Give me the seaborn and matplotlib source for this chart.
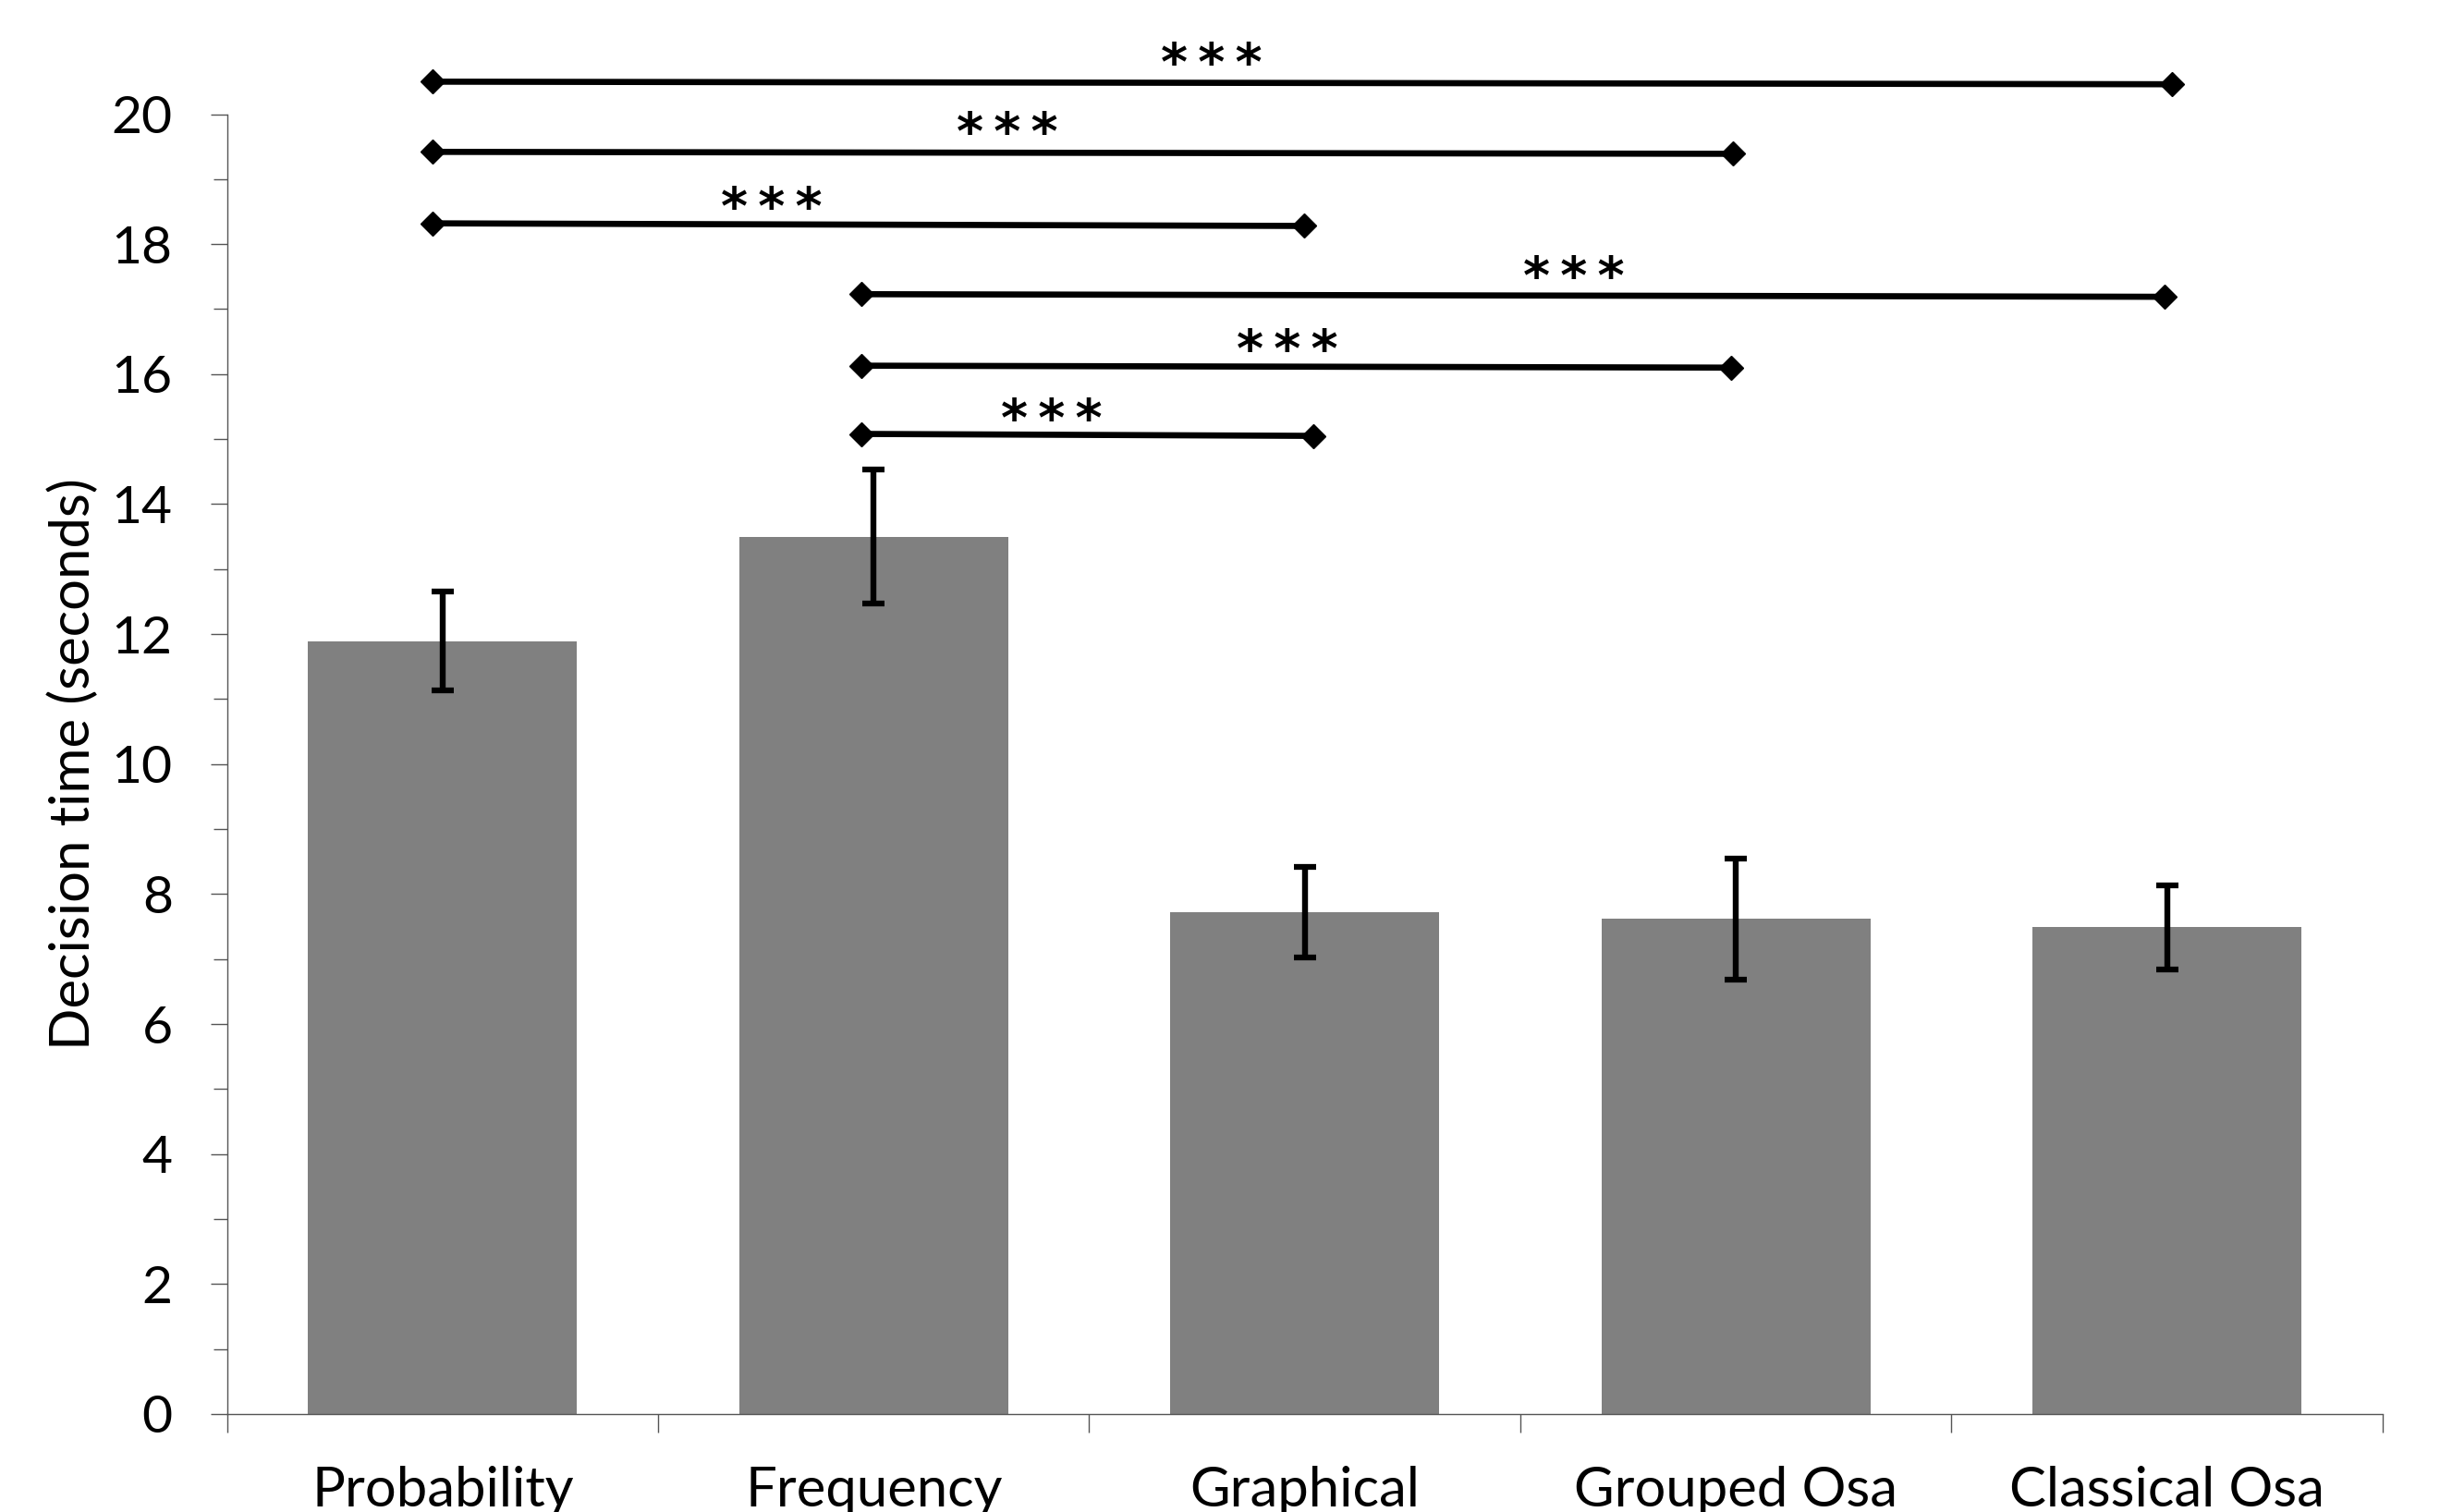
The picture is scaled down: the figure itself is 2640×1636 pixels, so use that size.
import matplotlib
matplotlib.use("Agg")
import matplotlib.pyplot as plt
import seaborn as sns
import pandas as pd
import numpy as np

# ---- data ----
categories = ["Probability", "Frequency", "Graphical", "Grouped Osa", "Classical Osa"]
means = [11.89, 13.50, 7.72, 7.62, 7.49]
errors = [0.76, 1.03, 0.70, 0.93, 0.65]

# significance brackets (x in category units)
sig_start = [-0.024, -0.024, -0.024, 0.971, 0.971, 0.971]
sig_end = [4.011, 2.994, 1.998, 3.994, 2.989, 2.020]
sig_y_left = [20.50, 19.42, 18.32, 17.23, 16.13, 15.08]
sig_y_right = [20.46, 19.39, 18.28, 17.19, 16.10, 15.05]
sig_label = ["*\u2009*\u2009*"] * 6
sig_label_x = [1.784, 1.310, 0.764, 2.624, 1.960, 1.413]
sig_label_y = [20.97, 19.89, 18.74, 17.68, 16.56, 15.49]   # centre of the asterisks

yticks = [0, 2, 4, 6, 8, 10, 12, 14, 16, 18, 20]
ylabel = "Decision time (seconds)"

# ---- style ----
sns.set_theme(style="white")
plt.rcParams["font.family"] = ["Lato", "DejaVu Sans"]

fig = plt.figure(figsize=(26.4, 16.36), dpi=100)
ax = fig.add_axes([0.0930, 0.0648, 0.9765 - 0.0930, 0.9245 - 0.0648])

df = pd.DataFrame({"cat": categories, "val": means})
sns.barplot(data=df, x="cat", y="val", color="#808080", saturation=1,
            width=0.624, errorbar=None, ax=ax, linewidth=0)

xpos = np.arange(len(categories))
ax.errorbar(xpos, means, yerr=errors, fmt="none", ecolor="black",
            elinewidth=4.6, capsize=8.5, capthick=4.5, zorder=5)

for s, e, yl, yr in zip(sig_start, sig_end, sig_y_left, sig_y_right):
    ax.plot([s, e], [yl, yr], color="black", lw=4.8, marker="D",
            markersize=13, clip_on=False, zorder=6)
# asterisk glyph centre sits ~0.43 units above the baseline at this size
for lx, ly, lab in zip(sig_label_x, sig_label_y, sig_label):
    ax.text(lx, ly - 0.43, lab, ha="center", va="baseline", fontsize=40,
            family="DejaVu Sans", fontweight="bold", color="black",
            clip_on=False)

ax.set_xlim(-0.5, len(categories) - 0.5)
ax.set_ylim(0, 20)

# y axis ticks
ax.set_yticks(yticks)
ax.set_yticks(np.arange(1, 20, 2), minor=True)
ax.tick_params(axis="y", which="major", direction="out", length=13.3,
               width=1.0, color="#555555", labelsize=41, pad=29,
               left=True, labelcolor="black")
ax.tick_params(axis="y", which="minor", direction="out", length=11,
               width=1.0, color="#555555", left=True)

# x axis: ticks at boundaries, labels at centres
ax.set_xticks(np.arange(-0.5, len(categories), 1.0))
ax.set_xticklabels([])
ax.set_xticks(xpos, minor=True)
ax.set_xticklabels(categories, minor=True)
ax.tick_params(axis="x", which="major", direction="out", length=14.4,
               width=1.0, color="#555555", bottom=True)
ax.tick_params(axis="x", which="minor", length=0, labelsize=43, pad=40,
               labelcolor="black")

ax.set_xlabel("")
ax.set_ylabel(ylabel, fontsize=43, color="black", ha="center", va="center")
ax.yaxis.set_label_coords(-0.0714, 0.5)

for side in ["top", "right"]:
    ax.spines[side].set_visible(False)
for side in ["left", "bottom"]:
    ax.spines[side].set_color("#555555")
    ax.spines[side].set_linewidth(1.0)

fig.savefig("out.png", dpi=100, facecolor="white")
